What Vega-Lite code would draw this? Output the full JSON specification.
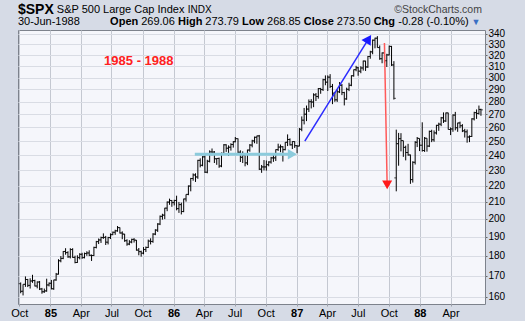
{
"$schema":"https://vega.github.io/schema/vega-lite/v6.json",
"width":467,"height":274,
"autosize":{"type":"none"},
"padding":{"left":18,"top":30,"right":40,"bottom":17},
"background":"#d6dbe6",
"config":{"font":"Liberation Sans","view":{"fill":"#f5f6fb","stroke":"#7d828c","strokeWidth":1},"axis":{"labelOverlap":false,"labelSeparation":0}},
"datasets":{"spx":[
{"d":"1984-10-05","o":166.1,"h":166.7,"l":161.6,"c":162.4},
{"d":"1984-10-12","o":162.6,"h":165.8,"l":160.6,"c":165.8},
{"d":"1984-10-19","o":165.8,"h":169.6,"l":164.6,"c":168.1},
{"d":"1984-10-26","o":168.1,"h":168.4,"l":164.5,"c":165.3},
{"d":"1984-11-02","o":165.3,"h":168.7,"l":163.8,"c":167.4},
{"d":"1984-11-09","o":167.4,"h":170.4,"l":166.5,"c":167.6},
{"d":"1984-11-16","o":167.6,"h":168.0,"l":164.8,"c":165.0},
{"d":"1984-11-23","o":165.0,"h":167.2,"l":163.9,"c":166.9},
{"d":"1984-11-30","o":166.9,"h":167.4,"l":163.1,"c":163.6},
{"d":"1984-12-07","o":163.6,"h":164.1,"l":161.4,"c":162.3},
{"d":"1984-12-14","o":162.3,"h":163.8,"l":161.8,"c":162.7},
{"d":"1984-12-21","o":162.7,"h":168.5,"l":162.3,"c":165.5},
{"d":"1984-12-28","o":165.5,"h":166.7,"l":164.8,"c":166.3},
{"d":"1985-01-04","o":166.3,"h":167.9,"l":163.4,"c":163.7},
{"d":"1985-01-11","o":163.7,"h":168.0,"l":163.2,"c":167.9},
{"d":"1985-01-18","o":167.9,"h":171.3,"l":167.5,"c":170.7},
{"d":"1985-01-25","o":170.7,"h":178.2,"l":170.5,"c":177.4},
{"d":"1985-02-01","o":177.4,"h":179.8,"l":176.6,"c":178.6},
{"d":"1985-02-08","o":178.6,"h":182.4,"l":178.2,"c":182.2},
{"d":"1985-02-15","o":182.2,"h":183.9,"l":180.5,"c":181.6},
{"d":"1985-02-22","o":181.6,"h":182.3,"l":178.9,"c":179.4},
{"d":"1985-03-01","o":179.4,"h":183.9,"l":178.6,"c":183.2},
{"d":"1985-03-08","o":183.2,"h":183.9,"l":178.9,"c":179.1},
{"d":"1985-03-15","o":179.1,"h":180.0,"l":176.1,"c":176.5},
{"d":"1985-03-22","o":176.5,"h":180.2,"l":176.3,"c":179.0},
{"d":"1985-03-29","o":179.0,"h":181.3,"l":178.1,"c":180.7},
{"d":"1985-04-05","o":180.7,"h":181.5,"l":178.4,"c":179.0},
{"d":"1985-04-12","o":179.0,"h":181.6,"l":178.6,"c":181.1},
{"d":"1985-04-19","o":181.1,"h":182.3,"l":179.9,"c":181.4},
{"d":"1985-04-26","o":181.4,"h":182.8,"l":179.8,"c":180.2},
{"d":"1985-05-03","o":180.2,"h":180.6,"l":177.3,"c":180.1},
{"d":"1985-05-10","o":180.1,"h":184.7,"l":179.8,"c":184.3},
{"d":"1985-05-17","o":184.3,"h":187.8,"l":183.8,"c":187.4},
{"d":"1985-05-24","o":187.4,"h":189.1,"l":186.1,"c":188.3},
{"d":"1985-05-31","o":188.3,"h":190.1,"l":186.7,"c":189.6},
{"d":"1985-06-07","o":189.6,"h":191.9,"l":188.9,"c":189.7},
{"d":"1985-06-14","o":189.7,"h":190.5,"l":185.6,"c":187.1},
{"d":"1985-06-21","o":187.1,"h":190.0,"l":185.9,"c":189.6},
{"d":"1985-06-28","o":189.6,"h":191.9,"l":188.8,"c":191.2},
{"d":"1985-07-05","o":191.2,"h":192.9,"l":190.9,"c":192.5},
{"d":"1985-07-12","o":192.5,"h":193.9,"l":191.1,"c":193.3},
{"d":"1985-07-19","o":193.3,"h":196.0,"l":192.8,"c":195.1},
{"d":"1985-07-26","o":195.1,"h":195.2,"l":191.8,"c":192.1},
{"d":"1985-08-02","o":192.1,"h":193.0,"l":188.7,"c":191.5},
{"d":"1985-08-09","o":191.5,"h":191.6,"l":187.3,"c":187.9},
{"d":"1985-08-16","o":187.9,"h":188.7,"l":185.2,"c":186.1},
{"d":"1985-08-23","o":186.1,"h":188.2,"l":185.5,"c":187.2},
{"d":"1985-08-30","o":187.2,"h":189.0,"l":186.5,"c":188.6},
{"d":"1985-09-06","o":188.6,"h":189.3,"l":186.9,"c":188.2},
{"d":"1985-09-13","o":188.2,"h":188.3,"l":182.6,"c":182.9},
{"d":"1985-09-20","o":182.9,"h":184.0,"l":180.2,"c":182.1},
{"d":"1985-09-27","o":182.1,"h":182.6,"l":179.5,"c":181.3},
{"d":"1985-10-04","o":181.3,"h":184.5,"l":180.7,"c":183.2},
{"d":"1985-10-11","o":183.2,"h":184.8,"l":181.9,"c":184.3},
{"d":"1985-10-18","o":184.3,"h":188.5,"l":184.0,"c":187.7},
{"d":"1985-10-25","o":187.7,"h":189.2,"l":185.9,"c":187.5},
{"d":"1985-11-01","o":187.5,"h":192.0,"l":186.8,"c":191.5},
{"d":"1985-11-08","o":191.5,"h":194.2,"l":190.9,"c":193.7},
{"d":"1985-11-15","o":193.7,"h":197.6,"l":192.7,"c":197.1},
{"d":"1985-11-22","o":197.1,"h":202.0,"l":196.5,"c":201.5},
{"d":"1985-11-29","o":201.5,"h":203.0,"l":199.6,"c":202.2},
{"d":"1985-12-06","o":202.2,"h":206.5,"l":199.9,"c":206.3},
{"d":"1985-12-13","o":206.3,"h":210.3,"l":204.5,"c":209.9},
{"d":"1985-12-20","o":209.9,"h":212.0,"l":208.3,"c":210.9},
{"d":"1985-12-27","o":210.9,"h":211.1,"l":207.1,"c":209.6},
{"d":"1986-01-03","o":209.6,"h":211.3,"l":207.9,"c":210.9},
{"d":"1986-01-10","o":210.9,"h":213.8,"l":205.0,"c":206.0},
{"d":"1986-01-17","o":206.0,"h":210.0,"l":203.5,"c":208.4},
{"d":"1986-01-24","o":208.4,"h":209.6,"l":202.6,"c":204.3},
{"d":"1986-01-31","o":204.3,"h":212.0,"l":203.9,"c":211.8},
{"d":"1986-02-07","o":211.8,"h":214.6,"l":210.2,"c":214.6},
{"d":"1986-02-14","o":214.6,"h":220.2,"l":214.1,"c":219.8},
{"d":"1986-02-21","o":219.8,"h":225.0,"l":216.5,"c":224.6},
{"d":"1986-02-28","o":224.6,"h":227.9,"l":223.2,"c":226.9},
{"d":"1986-03-07","o":226.9,"h":228.0,"l":222.4,"c":225.6},
{"d":"1986-03-14","o":225.6,"h":237.0,"l":224.4,"c":236.6},
{"d":"1986-03-21","o":236.6,"h":238.0,"l":231.9,"c":233.3},
{"d":"1986-03-28","o":233.3,"h":239.5,"l":232.6,"c":239.0},
{"d":"1986-04-04","o":239.0,"h":240.0,"l":228.2,"c":228.7},
{"d":"1986-04-11","o":228.7,"h":237.0,"l":228.0,"c":236.0},
{"d":"1986-04-18","o":236.0,"h":243.5,"l":235.2,"c":242.4},
{"d":"1986-04-25","o":242.4,"h":244.8,"l":240.0,"c":242.3},
{"d":"1986-05-02","o":242.3,"h":243.0,"l":234.8,"c":237.7},
{"d":"1986-05-09","o":237.7,"h":238.0,"l":233.6,"c":237.9},
{"d":"1986-05-16","o":237.9,"h":238.5,"l":231.6,"c":232.8},
{"d":"1986-05-23","o":232.8,"h":242.0,"l":232.0,"c":241.4},
{"d":"1986-05-30","o":241.4,"h":247.9,"l":240.6,"c":247.4},
{"d":"1986-06-06","o":247.4,"h":247.8,"l":242.4,"c":245.0},
{"d":"1986-06-13","o":245.0,"h":247.0,"l":239.6,"c":245.7},
{"d":"1986-06-20","o":245.7,"h":248.5,"l":243.3,"c":247.6},
{"d":"1986-06-27","o":247.6,"h":250.0,"l":245.4,"c":249.6},
{"d":"1986-07-03","o":249.6,"h":253.0,"l":249.2,"c":251.8},
{"d":"1986-07-11","o":251.8,"h":252.0,"l":240.8,"c":242.2},
{"d":"1986-07-18","o":242.2,"h":243.5,"l":235.5,"c":238.7},
{"d":"1986-07-25","o":238.7,"h":242.8,"l":234.8,"c":240.2},
{"d":"1986-08-01","o":240.2,"h":240.9,"l":232.6,"c":234.9},
{"d":"1986-08-08","o":234.9,"h":244.0,"l":233.4,"c":243.7},
{"d":"1986-08-15","o":243.7,"h":247.9,"l":242.5,"c":247.2},
{"d":"1986-08-22","o":247.2,"h":251.0,"l":245.6,"c":250.2},
{"d":"1986-08-29","o":250.2,"h":253.3,"l":248.5,"c":252.8},
{"d":"1986-09-05","o":252.8,"h":254.0,"l":248.1,"c":253.8},
{"d":"1986-09-12","o":253.8,"h":254.5,"l":230.2,"c":230.7},
{"d":"1986-09-19","o":230.7,"h":233.5,"l":228.3,"c":232.2},
{"d":"1986-09-26","o":232.2,"h":236.8,"l":229.9,"c":232.2},
{"d":"1986-10-03","o":232.2,"h":236.5,"l":229.7,"c":233.7},
{"d":"1986-10-10","o":233.7,"h":236.0,"l":232.6,"c":235.5},
{"d":"1986-10-17","o":235.5,"h":239.0,"l":234.4,"c":238.3},
{"d":"1986-10-24","o":238.3,"h":240.2,"l":235.6,"c":238.3},
{"d":"1986-10-31","o":238.3,"h":244.2,"l":236.2,"c":244.0},
{"d":"1986-11-07","o":244.0,"h":248.2,"l":243.1,"c":245.8},
{"d":"1986-11-14","o":245.8,"h":247.6,"l":242.2,"c":246.0},
{"d":"1986-11-21","o":246.0,"h":246.5,"l":235.8,"c":244.0},
{"d":"1986-11-28","o":244.0,"h":249.3,"l":243.5,"c":249.2},
{"d":"1986-12-05","o":249.2,"h":254.9,"l":246.5,"c":251.2},
{"d":"1986-12-12","o":251.2,"h":252.0,"l":246.9,"c":247.4},
{"d":"1986-12-19","o":247.4,"h":250.0,"l":244.4,"c":249.7},
{"d":"1986-12-26","o":249.7,"h":249.9,"l":245.2,"c":246.8},
{"d":"1987-01-02","o":246.8,"h":247.1,"l":241.5,"c":246.5},
{"d":"1987-01-09","o":246.5,"h":259.6,"l":246.3,"c":258.7},
{"d":"1987-01-16","o":258.7,"h":268.4,"l":257.2,"c":265.5},
{"d":"1987-01-23","o":265.5,"h":275.0,"l":262.3,"c":270.1},
{"d":"1987-01-30","o":270.1,"h":276.9,"l":264.8,"c":274.1},
{"d":"1987-02-06","o":274.1,"h":281.8,"l":271.8,"c":280.0},
{"d":"1987-02-13","o":280.0,"h":282.0,"l":274.6,"c":279.7},
{"d":"1987-02-20","o":279.7,"h":286.8,"l":275.6,"c":285.5},
{"d":"1987-02-27","o":285.5,"h":287.0,"l":280.5,"c":284.2},
{"d":"1987-03-06","o":284.2,"h":291.2,"l":282.4,"c":290.7},
{"d":"1987-03-13","o":290.7,"h":291.3,"l":286.4,"c":289.9},
{"d":"1987-03-20","o":289.9,"h":299.0,"l":288.7,"c":298.2},
{"d":"1987-03-27","o":298.2,"h":301.9,"l":293.5,"c":296.1},
{"d":"1987-04-03","o":296.1,"h":301.9,"l":288.7,"c":300.4},
{"d":"1987-04-10","o":300.4,"h":303.0,"l":291.1,"c":292.5},
{"d":"1987-04-17","o":292.5,"h":294.6,"l":278.0,"c":286.9},
{"d":"1987-04-24","o":286.9,"h":288.0,"l":279.9,"c":281.5},
{"d":"1987-05-01","o":281.5,"h":290.0,"l":279.8,"c":288.0},
{"d":"1987-05-08","o":288.0,"h":296.2,"l":287.0,"c":293.4},
{"d":"1987-05-15","o":293.4,"h":294.5,"l":285.3,"c":287.4},
{"d":"1987-05-22","o":287.4,"h":288.0,"l":277.0,"c":282.2},
{"d":"1987-05-29","o":282.2,"h":291.5,"l":281.5,"c":290.1},
{"d":"1987-06-05","o":290.1,"h":295.6,"l":288.6,"c":293.5},
{"d":"1987-06-12","o":293.5,"h":302.0,"l":292.7,"c":301.6},
{"d":"1987-06-19","o":301.6,"h":307.1,"l":300.8,"c":306.9},
{"d":"1987-06-26","o":306.9,"h":310.3,"l":305.5,"c":308.6},
{"d":"1987-07-02","o":308.6,"h":309.5,"l":301.6,"c":305.6},
{"d":"1987-07-10","o":305.6,"h":309.9,"l":303.8,"c":308.4},
{"d":"1987-07-17","o":308.4,"h":315.0,"l":306.1,"c":314.6},
{"d":"1987-07-24","o":314.6,"h":314.9,"l":305.8,"c":309.3},
{"d":"1987-07-31","o":309.3,"h":319.2,"l":308.5,"c":318.7},
{"d":"1987-08-07","o":318.7,"h":324.0,"l":316.7,"c":323.0},
{"d":"1987-08-14","o":323.0,"h":334.6,"l":320.8,"c":334.0},
{"d":"1987-08-21","o":334.0,"h":336.4,"l":326.3,"c":335.9},
{"d":"1987-08-28","o":335.9,"h":337.9,"l":326.9,"c":327.0},
{"d":"1987-09-04","o":327.0,"h":329.0,"l":315.7,"c":316.7},
{"d":"1987-09-11","o":316.7,"h":322.5,"l":312.6,"c":322.0},
{"d":"1987-09-18","o":322.0,"h":323.2,"l":312.6,"c":314.9},
{"d":"1987-09-25","o":314.9,"h":321.2,"l":309.3,"c":320.2},
{"d":"1987-10-02","o":320.2,"h":328.9,"l":319.6,"c":328.1},
{"d":"1987-10-09","o":328.1,"h":328.6,"l":310.2,"c":311.1},
{"d":"1987-10-16","o":311.1,"h":314.5,"l":281.7,"c":282.7},
{"d":"1987-10-23","o":225.0,"h":258.4,"l":216.5,"c":248.2},
{"d":"1987-10-30","o":248.2,"h":256.0,"l":233.0,"c":251.8},
{"d":"1987-11-06","o":251.8,"h":255.8,"l":242.8,"c":250.4},
{"d":"1987-11-13","o":250.4,"h":250.4,"l":239.0,"c":245.6},
{"d":"1987-11-20","o":245.6,"h":246.8,"l":236.6,"c":242.0},
{"d":"1987-11-27","o":242.0,"h":248.1,"l":239.8,"c":240.3},
{"d":"1987-12-04","o":240.3,"h":240.6,"l":221.2,"c":223.9},
{"d":"1987-12-11","o":223.9,"h":236.0,"l":222.0,"c":235.3},
{"d":"1987-12-18","o":235.3,"h":250.0,"l":233.8,"c":249.2},
{"d":"1987-12-24","o":249.2,"h":253.0,"l":245.8,"c":252.0},
{"d":"1987-12-31","o":252.0,"h":252.0,"l":243.0,"c":247.1},
{"d":"1988-01-08","o":247.1,"h":263.9,"l":242.6,"c":243.4},
{"d":"1988-01-15","o":243.4,"h":253.0,"l":242.4,"c":252.1},
{"d":"1988-01-22","o":252.1,"h":252.1,"l":242.6,"c":246.5},
{"d":"1988-01-29","o":246.5,"h":257.7,"l":245.8,"c":257.1},
{"d":"1988-02-05","o":257.1,"h":258.3,"l":249.3,"c":251.0},
{"d":"1988-02-12","o":251.0,"h":257.8,"l":249.6,"c":256.0},
{"d":"1988-02-19","o":256.0,"h":262.0,"l":254.8,"c":261.6},
{"d":"1988-02-26","o":261.6,"h":263.6,"l":257.5,"c":262.5},
{"d":"1988-03-04","o":262.5,"h":268.0,"l":261.0,"c":267.3},
{"d":"1988-03-11","o":267.3,"h":271.5,"l":263.4,"c":264.9},
{"d":"1988-03-18","o":264.9,"h":271.4,"l":264.2,"c":271.1},
{"d":"1988-03-25","o":271.1,"h":271.3,"l":258.5,"c":258.5},
{"d":"1988-04-01","o":258.5,"h":260.0,"l":254.4,"c":258.9},
{"d":"1988-04-08","o":258.9,"h":270.0,"l":256.8,"c":269.4},
{"d":"1988-04-15","o":269.4,"h":271.9,"l":257.9,"c":259.8},
{"d":"1988-04-22","o":259.8,"h":263.6,"l":256.8,"c":263.4},
{"d":"1988-04-29","o":263.4,"h":264.4,"l":259.5,"c":261.3},
{"d":"1988-05-06","o":261.3,"h":262.5,"l":256.6,"c":257.5},
{"d":"1988-05-13","o":257.5,"h":259.0,"l":252.6,"c":256.8},
{"d":"1988-05-20","o":256.8,"h":258.5,"l":248.9,"c":253.0},
{"d":"1988-05-27","o":253.0,"h":254.2,"l":249.3,"c":253.4},
{"d":"1988-06-03","o":253.4,"h":267.0,"l":253.0,"c":266.5},
{"d":"1988-06-10","o":266.5,"h":272.0,"l":265.3,"c":271.3},
{"d":"1988-06-17","o":271.3,"h":273.8,"l":266.5,"c":270.7},
{"d":"1988-06-24","o":270.7,"h":276.9,"l":269.8,"c":273.8},
{"d":"1988-06-30","o":273.8,"h":274.4,"l":268.9,"c":273.5}
]},
"layer":[
{"data":{"name":"spx"},"mark":{"type":"rule","color":"#000000","strokeWidth":1},
 "encoding":{
  "x":{"field":"d","type":"temporal",
   "scale":{"type":"utc","domain":[{"year":1984,"month":9,"date":27,"utc":true},{"year":1988,"month":7,"date":12,"utc":true}]},
   "axis":{"title":null,"domain":false,"grid":true,"gridColor":"#c4c8d1","ticks":true,"tickSize":2,"tickColor":"#9a9ea8","tickCount":30,"labelFontSize":11,"labelColor":"#000000","labelPadding":1,"labelFlush":false,"labelOverlap":false,"labelSeparation":0,"labelBound":false,
    "values":[{"year":1984,"month":10,"date":1,"utc":true},{"year":1985,"month":1,"date":1,"utc":true},{"year":1985,"month":4,"date":1,"utc":true},{"year":1985,"month":7,"date":1,"utc":true},{"year":1985,"month":10,"date":1,"utc":true},{"year":1986,"month":1,"date":1,"utc":true},{"year":1986,"month":4,"date":1,"utc":true},{"year":1986,"month":7,"date":1,"utc":true},{"year":1986,"month":10,"date":1,"utc":true},{"year":1987,"month":1,"date":1,"utc":true},{"year":1987,"month":4,"date":1,"utc":true},{"year":1987,"month":7,"date":1,"utc":true},{"year":1987,"month":10,"date":1,"utc":true},{"year":1988,"month":1,"date":1,"utc":true},{"year":1988,"month":4,"date":1,"utc":true}],
    "labelExpr":"utcmonth(datum.value)==0 ? utcFormat(datum.value,'%y') : utcFormat(datum.value,'%b')",
    "labelFontWeight":{"condition":{"test":"utcmonth(datum.value)==0","value":"bold"},"value":"normal"}}},
  "y":{"field":"l","type":"quantitative",
   "scale":{"type":"log","domain":[156.7,343.9],"nice":false,"zero":false},
   "axis":{"orient":"right","title":null,"domain":false,"grid":true,"gridColor":"#d9dce4","ticks":true,"tickSize":2,"tickColor":"#666666","tickCount":30,"labelFontSize":10,"labelColor":"#000000","labelPadding":1,"format":"d","labelFlush":false,"labelOverlap":false,
    "values":[160,170,180,190,200,210,220,230,240,250,260,270,280,290,300,310,320,330,340]}},
  "y2":{"field":"h"}}},
{"data":{"name":"spx"},"mark":{"type":"tick","orient":"horizontal","size":2,"thickness":1,"xOffset":-1,"color":"#000000"},
 "encoding":{"x":{"field":"d","type":"temporal"},"y":{"field":"o","type":"quantitative"}}},
{"data":{"name":"spx"},"mark":{"type":"tick","orient":"horizontal","size":2,"thickness":1,"xOffset":1,"color":"#000000"},
 "encoding":{"x":{"field":"d","type":"temporal"},"y":{"field":"c","type":"quantitative"}}},
{"data":{"values":[{}]},"mark":{"type":"rule","color":"#8ccbdc","strokeWidth":3},
 "encoding":{"x":{"datum":{"year":1986,"month":3,"date":5,"utc":true},"type":"temporal"},"y":{"datum":240.8,"type":"quantitative"},
  "x2":{"datum":{"year":1986,"month":12,"date":12,"utc":true}},"y2":{"datum":240.8}}},
{"data":{"values":[{}]},"mark":{"type":"point","shape":"triangle-right","filled":true,"size":110,"color":"#8ccbdc","opacity":1},
 "encoding":{"x":{"datum":{"year":1986,"month":12,"date":19,"utc":true},"type":"temporal"},"y":{"datum":240.8,"type":"quantitative"}}},
{"data":{"values":[{}]},"mark":{"type":"rule","color":"#2b2bff","strokeWidth":1.5},
 "encoding":{"x":{"datum":{"year":1987,"month":1,"date":25,"utc":true},"type":"temporal"},"y":{"datum":250.1,"type":"quantitative"},
  "x2":{"datum":{"year":1987,"month":8,"date":2,"utc":true}},"y2":{"datum":335.2}}},
{"data":{"values":[{}]},"mark":{"type":"point","shape":"triangle-up","filled":true,"size":120,"angle":32,"color":"#1a1aff","opacity":1},
 "encoding":{"x":{"datum":{"year":1987,"month":8,"date":2,"utc":true},"type":"temporal"},"y":{"datum":335.2,"type":"quantitative"}}},
{"data":{"values":[{}]},"mark":{"type":"rule","color":"#ff5a5a","strokeWidth":1.5},
 "encoding":{"x":{"datum":{"year":1987,"month":9,"date":18,"utc":true},"type":"temporal"},"y":{"datum":331.3,"type":"quantitative"},
  "x2":{"datum":{"year":1987,"month":9,"date":26,"utc":true}},"y2":{"datum":220.5}}},
{"data":{"values":[{}]},"mark":{"type":"point","shape":"triangle-down","filled":true,"size":100,"color":"#ff1a1a","opacity":1},
 "encoding":{"x":{"datum":{"year":1987,"month":9,"date":26,"utc":true},"type":"temporal"},"y":{"datum":220.5,"type":"quantitative"}}},
{"data":{"values":[{}]},"mark":{"type":"text","text":"1985 - 1988","fontWeight":"bold","fontSize":13,"color":"#ff2020","align":"center","baseline":"middle"},
 "encoding":{"x":{"datum":{"year":1985,"month":9,"date":20,"utc":true},"type":"temporal"},"y":{"datum":314.7,"type":"quantitative"}}},
{"data":{"values":[{}]},"mark":{"type":"text","text":"$SPX","fontWeight":"bold","fontSize":14,"color":"#000000","align":"left","baseline":"middle"},
 "encoding":{"x":{"datum":{"year":1984,"month":9,"date":27,"utc":true},"type":"temporal"},"y":{"datum":364.2,"type":"quantitative"}}},
{"data":{"values":[{}]},"mark":{"type":"text","text":"S&P 500 Large Cap Index","fontSize":11,"color":"#000000","align":"left","baseline":"middle"},
 "encoding":{"x":{"datum":{"year":1985,"month":1,"date":20,"utc":true},"type":"temporal"},"y":{"datum":364.2,"type":"quantitative"}}},
{"data":{"values":[{}]},"mark":{"type":"text","text":"INDX","fontSize":10,"color":"#000000","align":"left","baseline":"middle"},
 "encoding":{"x":{"datum":{"year":1986,"month":2,"date":12,"utc":true},"type":"temporal"},"y":{"datum":364.2,"type":"quantitative"}}},
{"data":{"values":[{}]},"mark":{"type":"text","text":"©StockCharts.com","fontSize":10.5,"color":"#444444","align":"right","baseline":"middle"},
 "encoding":{"x":{"datum":{"year":1988,"month":7,"date":3,"utc":true},"type":"temporal"},"y":{"datum":364.2,"type":"quantitative"}}},
{"data":{"values":[{}]},"mark":{"type":"text","text":"30-Jun-1988","fontSize":11,"color":"#000000","align":"left","baseline":"middle"},
 "encoding":{"x":{"datum":{"year":1984,"month":9,"date":27,"utc":true},"type":"temporal"},"y":{"datum":351.4,"type":"quantitative"}}},
{"data":{"values":[{}]},"mark":{"type":"text","text":"Open","fontWeight":"bold","fontSize":11,"color":"#000000","align":"left","baseline":"middle"},
 "encoding":{"x":{"datum":{"year":1985,"month":6,"date":27,"utc":true},"type":"temporal"},"y":{"datum":351.4,"type":"quantitative"}}},
{"data":{"values":[{}]},"mark":{"type":"text","text":"269.06","fontSize":11,"color":"#000000","align":"left","baseline":"middle"},
 "encoding":{"x":{"datum":{"year":1985,"month":9,"date":27,"utc":true},"type":"temporal"},"y":{"datum":351.4,"type":"quantitative"}}},
{"data":{"values":[{}]},"mark":{"type":"text","text":"High","fontWeight":"bold","fontSize":11,"color":"#000000","align":"left","baseline":"middle"},
 "encoding":{"x":{"datum":{"year":1986,"month":1,"date":14,"utc":true},"type":"temporal"},"y":{"datum":351.4,"type":"quantitative"}}},
{"data":{"values":[{}]},"mark":{"type":"text","text":"273.79","fontSize":11,"color":"#000000","align":"left","baseline":"middle"},
 "encoding":{"x":{"datum":{"year":1986,"month":4,"date":5,"utc":true},"type":"temporal"},"y":{"datum":351.4,"type":"quantitative"}}},
{"data":{"values":[{}]},"mark":{"type":"text","text":"Low","fontWeight":"bold","fontSize":11,"color":"#000000","align":"left","baseline":"middle"},
 "encoding":{"x":{"datum":{"year":1986,"month":7,"date":23,"utc":true},"type":"temporal"},"y":{"datum":351.4,"type":"quantitative"}}},
{"data":{"values":[{}]},"mark":{"type":"text","text":"268.85","fontSize":11,"color":"#000000","align":"left","baseline":"middle"},
 "encoding":{"x":{"datum":{"year":1986,"month":10,"date":5,"utc":true},"type":"temporal"},"y":{"datum":351.4,"type":"quantitative"}}},
{"data":{"values":[{}]},"mark":{"type":"text","text":"Close","fontWeight":"bold","fontSize":11,"color":"#000000","align":"left","baseline":"middle"},
 "encoding":{"x":{"datum":{"year":1987,"month":1,"date":22,"utc":true},"type":"temporal"},"y":{"datum":351.4,"type":"quantitative"}}},
{"data":{"values":[{}]},"mark":{"type":"text","text":"273.50","fontSize":11,"color":"#000000","align":"left","baseline":"middle"},
 "encoding":{"x":{"datum":{"year":1987,"month":4,"date":30,"utc":true},"type":"temporal"},"y":{"datum":351.4,"type":"quantitative"}}},
{"data":{"values":[{}]},"mark":{"type":"text","text":"Chg","fontWeight":"bold","fontSize":11,"color":"#000000","align":"left","baseline":"middle"},
 "encoding":{"x":{"datum":{"year":1987,"month":8,"date":17,"utc":true},"type":"temporal"},"y":{"datum":351.4,"type":"quantitative"}}},
{"data":{"values":[{}]},"mark":{"type":"text","text":"-0.28 (-0.10%)","fontSize":11,"color":"#000000","align":"left","baseline":"middle"},
 "encoding":{"x":{"datum":{"year":1987,"month":10,"date":29,"utc":true},"type":"temporal"},"y":{"datum":351.4,"type":"quantitative"}}},
{"data":{"values":[{}]},"mark":{"type":"text","text":"▼","fontSize":9,"color":"#3a6fc4","align":"left","baseline":"middle"},
 "encoding":{"x":{"datum":{"year":1988,"month":6,"date":2,"utc":true},"type":"temporal"},"y":{"datum":351.4,"type":"quantitative"}}}
]
}
